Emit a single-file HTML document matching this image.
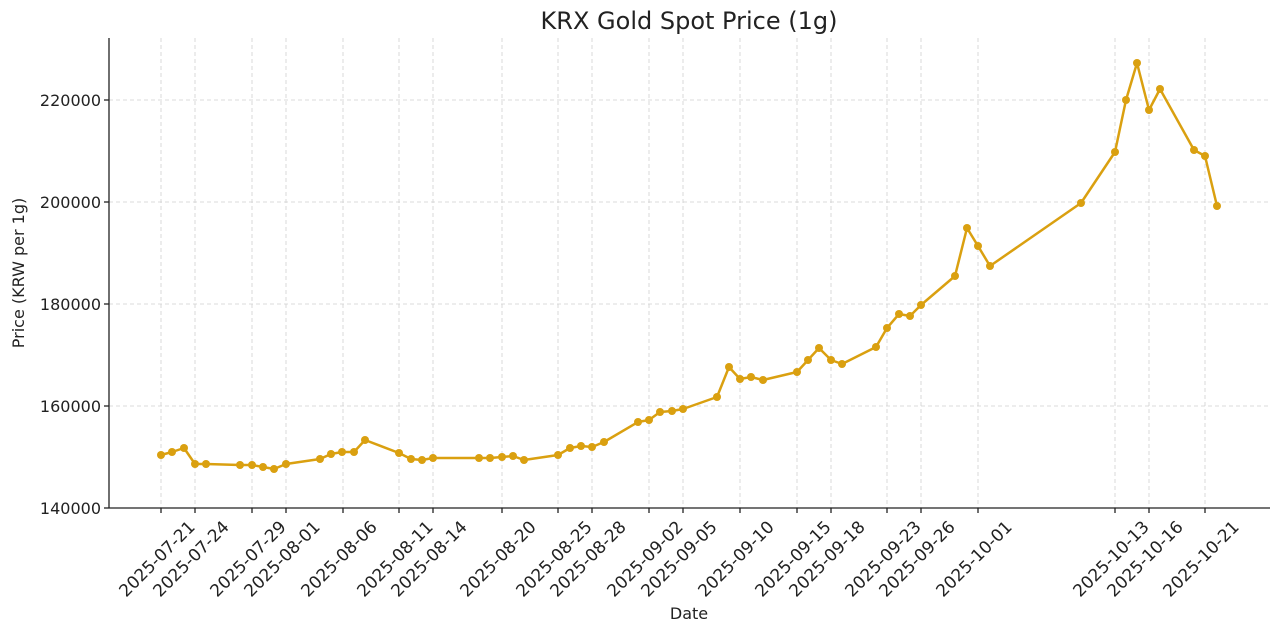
<!DOCTYPE html>
<html><head><meta charset="utf-8"><style>body{margin:0;background:#fff}svg{display:block}text{font-family:"DejaVu Sans","Liberation Sans",sans-serif;fill:#222}</style></head>
<body>
<svg width="1280" height="634" viewBox="0 0 1280 634" xmlns="http://www.w3.org/2000/svg">
<text x="689" y="29" font-size="24" text-anchor="middle">KRX Gold Spot Price (1g)</text>
<g stroke="#cfcfcf" stroke-width="0.8" stroke-dasharray="4,3">
<line x1="109" x2="1270" y1="100" y2="100"/><line x1="109" x2="1270" y1="202" y2="202"/><line x1="109" x2="1270" y1="304" y2="304"/><line x1="109" x2="1270" y1="406" y2="406"/>
<line x1="161" x2="161" y1="38" y2="508"/><line x1="195" x2="195" y1="38" y2="508"/><line x1="252" x2="252" y1="38" y2="508"/><line x1="286" x2="286" y1="38" y2="508"/><line x1="343" x2="343" y1="38" y2="508"/><line x1="399" x2="399" y1="38" y2="508"/><line x1="433" x2="433" y1="38" y2="508"/><line x1="502" x2="502" y1="38" y2="508"/><line x1="558" x2="558" y1="38" y2="508"/><line x1="592" x2="592" y1="38" y2="508"/><line x1="649" x2="649" y1="38" y2="508"/><line x1="683" x2="683" y1="38" y2="508"/><line x1="740" x2="740" y1="38" y2="508"/><line x1="797" x2="797" y1="38" y2="508"/><line x1="831" x2="831" y1="38" y2="508"/><line x1="887" x2="887" y1="38" y2="508"/><line x1="921" x2="921" y1="38" y2="508"/><line x1="978" x2="978" y1="38" y2="508"/><line x1="1115" x2="1115" y1="38" y2="508"/><line x1="1149" x2="1149" y1="38" y2="508"/><line x1="1205" x2="1205" y1="38" y2="508"/>
</g>
<g stroke="#222" stroke-width="1.3"><line x1="109" y1="38" x2="109" y2="508"/><line x1="109" y1="508" x2="1270" y2="508"/>
<line x1="104" x2="109" y1="100" y2="100"/><line x1="104" x2="109" y1="202" y2="202"/><line x1="104" x2="109" y1="304" y2="304"/><line x1="104" x2="109" y1="406" y2="406"/><line x1="104" x2="109" y1="508" y2="508"/></g>
<g font-size="16" text-anchor="end"><text x="101" y="106">220000</text><text x="101" y="208">200000</text><text x="101" y="310">180000</text><text x="101" y="412">160000</text><text x="101" y="514">140000</text></g>
<text transform="translate(24,273) rotate(-90)" font-size="16" text-anchor="middle">Price (KRW per 1g)</text>
<text x="689" y="619" font-size="16" text-anchor="middle">Date</text>
<g font-size="17" text-anchor="end">
<text transform="translate(196,528) rotate(-45)">2025-07-21</text><text transform="translate(230,528) rotate(-45)">2025-07-24</text><text transform="translate(287,528) rotate(-45)">2025-07-29</text><text transform="translate(321,528) rotate(-45)">2025-08-01</text><text transform="translate(378,528) rotate(-45)">2025-08-06</text><text transform="translate(434,528) rotate(-45)">2025-08-11</text><text transform="translate(468,528) rotate(-45)">2025-08-14</text><text transform="translate(537,528) rotate(-45)">2025-08-20</text><text transform="translate(593,528) rotate(-45)">2025-08-25</text><text transform="translate(627,528) rotate(-45)">2025-08-28</text><text transform="translate(684,528) rotate(-45)">2025-09-02</text><text transform="translate(718,528) rotate(-45)">2025-09-05</text><text transform="translate(775,528) rotate(-45)">2025-09-10</text><text transform="translate(832,528) rotate(-45)">2025-09-15</text><text transform="translate(866,528) rotate(-45)">2025-09-18</text><text transform="translate(922,528) rotate(-45)">2025-09-23</text><text transform="translate(956,528) rotate(-45)">2025-09-26</text><text transform="translate(1013,528) rotate(-45)">2025-10-01</text><text transform="translate(1150,528) rotate(-45)">2025-10-13</text><text transform="translate(1184,528) rotate(-45)">2025-10-16</text><text transform="translate(1240,528) rotate(-45)">2025-10-21</text>
</g>
<g stroke="#222" stroke-width="1.3">
<line x1="161" x2="161" y1="508" y2="513"/><line x1="195" x2="195" y1="508" y2="513"/><line x1="252" x2="252" y1="508" y2="513"/><line x1="286" x2="286" y1="508" y2="513"/><line x1="343" x2="343" y1="508" y2="513"/><line x1="399" x2="399" y1="508" y2="513"/><line x1="433" x2="433" y1="508" y2="513"/><line x1="502" x2="502" y1="508" y2="513"/><line x1="558" x2="558" y1="508" y2="513"/><line x1="592" x2="592" y1="508" y2="513"/><line x1="649" x2="649" y1="508" y2="513"/><line x1="683" x2="683" y1="508" y2="513"/><line x1="740" x2="740" y1="508" y2="513"/><line x1="797" x2="797" y1="508" y2="513"/><line x1="831" x2="831" y1="508" y2="513"/><line x1="887" x2="887" y1="508" y2="513"/><line x1="921" x2="921" y1="508" y2="513"/><line x1="978" x2="978" y1="508" y2="513"/><line x1="1115" x2="1115" y1="508" y2="513"/><line x1="1149" x2="1149" y1="508" y2="513"/><line x1="1205" x2="1205" y1="508" y2="513"/>
</g>
<polyline fill="none" stroke="#DAA010" stroke-width="2.5" stroke-linejoin="round" points="161,455 172,452 184,448 195,464 206,464 240,465 252,465 263,467 274,469 286,464 320,459 331,454 342,452 354,452 365,440 399,453 411,459 422,460 433,458 479,458 490,458 502,457 513,456 524,460 558,455 570,448 581,446 592,447 604,442 638,422 649,420 660,412 672,411 683,409 717,397 729,367 740,379 751,377 763,380 797,372 808,360 819,348 831,360 842,364 876,347 887,328 899,314 910,316 921,305 955,276 967,228 978,246 990,266 1081,203 1115,152 1126,100 1137,63 1149,110 1160,89 1194,150 1205,156 1217,206"/>
<g fill="#DAA010">
<circle cx="161" cy="455" r="4"/><circle cx="172" cy="452" r="4"/><circle cx="184" cy="448" r="4"/><circle cx="195" cy="464" r="4"/><circle cx="206" cy="464" r="4"/><circle cx="240" cy="465" r="4"/><circle cx="252" cy="465" r="4"/><circle cx="263" cy="467" r="4"/><circle cx="274" cy="469" r="4"/><circle cx="286" cy="464" r="4"/><circle cx="320" cy="459" r="4"/><circle cx="331" cy="454" r="4"/><circle cx="342" cy="452" r="4"/><circle cx="354" cy="452" r="4"/><circle cx="365" cy="440" r="4"/><circle cx="399" cy="453" r="4"/><circle cx="411" cy="459" r="4"/><circle cx="422" cy="460" r="4"/><circle cx="433" cy="458" r="4"/><circle cx="479" cy="458" r="4"/><circle cx="490" cy="458" r="4"/><circle cx="502" cy="457" r="4"/><circle cx="513" cy="456" r="4"/><circle cx="524" cy="460" r="4"/><circle cx="558" cy="455" r="4"/><circle cx="570" cy="448" r="4"/><circle cx="581" cy="446" r="4"/><circle cx="592" cy="447" r="4"/><circle cx="604" cy="442" r="4"/><circle cx="638" cy="422" r="4"/><circle cx="649" cy="420" r="4"/><circle cx="660" cy="412" r="4"/><circle cx="672" cy="411" r="4"/><circle cx="683" cy="409" r="4"/><circle cx="717" cy="397" r="4"/><circle cx="729" cy="367" r="4"/><circle cx="740" cy="379" r="4"/><circle cx="751" cy="377" r="4"/><circle cx="763" cy="380" r="4"/><circle cx="797" cy="372" r="4"/><circle cx="808" cy="360" r="4"/><circle cx="819" cy="348" r="4"/><circle cx="831" cy="360" r="4"/><circle cx="842" cy="364" r="4"/><circle cx="876" cy="347" r="4"/><circle cx="887" cy="328" r="4"/><circle cx="899" cy="314" r="4"/><circle cx="910" cy="316" r="4"/><circle cx="921" cy="305" r="4"/><circle cx="955" cy="276" r="4"/><circle cx="967" cy="228" r="4"/><circle cx="978" cy="246" r="4"/><circle cx="990" cy="266" r="4"/><circle cx="1081" cy="203" r="4"/><circle cx="1115" cy="152" r="4"/><circle cx="1126" cy="100" r="4"/><circle cx="1137" cy="63" r="4"/><circle cx="1149" cy="110" r="4"/><circle cx="1160" cy="89" r="4"/><circle cx="1194" cy="150" r="4"/><circle cx="1205" cy="156" r="4"/><circle cx="1217" cy="206" r="4"/>
</g>
</svg>
</body></html>
